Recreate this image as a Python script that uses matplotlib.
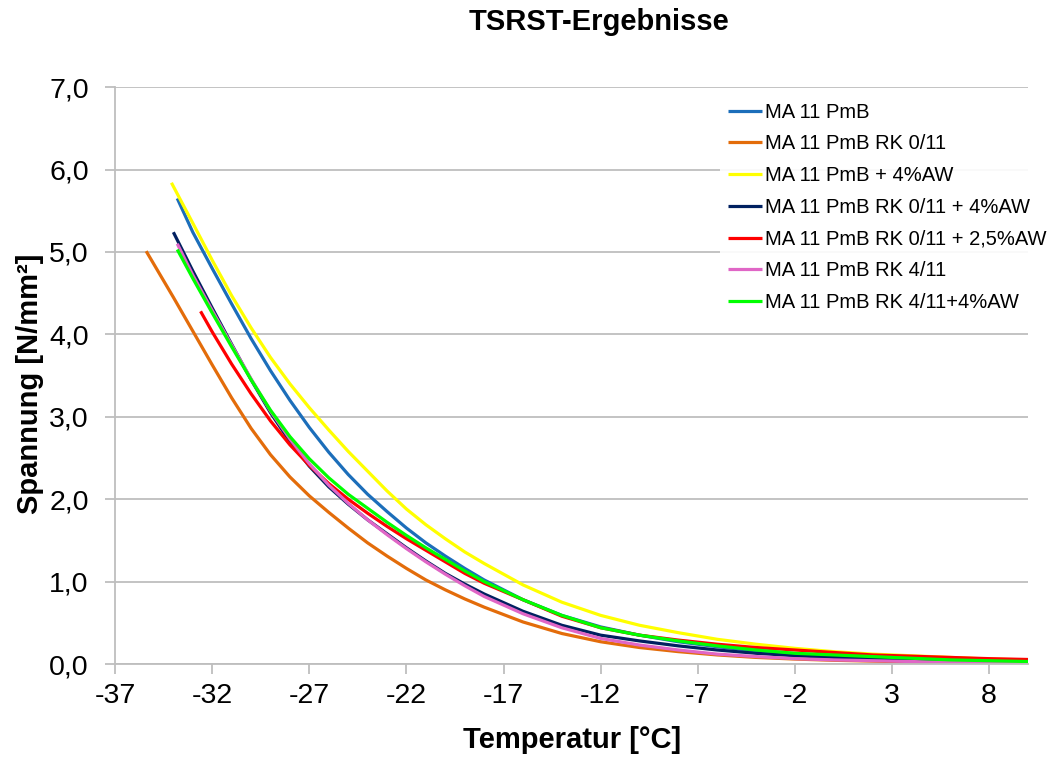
import matplotlib
matplotlib.use("Agg")
import matplotlib.pyplot as plt

plt.rcParams['font.family'] = ['Liberation Sans', 'DejaVu Sans']
plt.rcParams['axes.unicode_minus'] = False

# ---------------------------------------------------------------------------
# data (temperature in degC, stress in N/mm2)
# 1 degree steps in the steep part, 2 degree steps in the flat tail
grid = [-33, -32, -31, -30, -29, -28, -27, -26, -25, -24, -23, -22, -21, -20, -19, -18,
        -16, -14, -12, -10, -8, -6, -4, -2, 0, 2, 4, 6, 8, 10]

x_pmb = [-33.8] + grid
y_pmb = [5.65, 5.24, 4.80, 4.37, 3.95, 3.56, 3.20, 2.87, 2.57, 2.30, 2.06, 1.85, 1.65, 1.47, 1.31, 1.16, 1.02,
         0.78, 0.59, 0.45, 0.35, 0.27, 0.21, 0.16, 0.125, 0.10, 0.08, 0.06, 0.05, 0.04, 0.03]

x_rk011 = [-35.4, -35, -34] + grid
y_rk011 = [5.01, 4.85, 4.45, 4.04, 3.63, 3.23, 2.86, 2.54, 2.27, 2.04, 1.84, 1.65, 1.47, 1.31, 1.16, 1.02, 0.90,
           0.79, 0.69, 0.51, 0.37, 0.27, 0.20, 0.15, 0.11, 0.08, 0.06, 0.045, 0.035, 0.025, 0.02, 0.015, 0.01]

x_pmb_aw = [-34.1] + grid
y_pmb_aw = [5.84, 5.35, 4.90, 4.47, 4.08, 3.72, 3.40, 3.11, 2.84, 2.58, 2.34, 2.10, 1.88, 1.69, 1.52, 1.36, 1.22,
            0.96, 0.75, 0.59, 0.47, 0.38, 0.30, 0.24, 0.19, 0.15, 0.12, 0.10, 0.08, 0.06, 0.05]

x_rk011_aw4 = [-34.0] + grid
y_rk011_aw4 = [5.24, 4.77, 4.32, 3.88, 3.45, 3.05, 2.70, 2.40, 2.15, 1.94, 1.75, 1.58, 1.41, 1.25, 1.10, 0.97, 0.85,
               0.64, 0.47, 0.35, 0.28, 0.22, 0.17, 0.13, 0.10, 0.08, 0.06, 0.05, 0.04, 0.03, 0.03]

x_rk011_aw25 = [-32.6] + grid[1:]
y_rk011_aw25 = [4.28, 4.03, 3.64, 3.28, 2.95, 2.66, 2.41, 2.19, 2.00, 1.83, 1.67, 1.52, 1.38, 1.24, 1.10, 0.98,
                0.78, 0.58, 0.44, 0.35, 0.29, 0.24, 0.20, 0.17, 0.14, 0.11, 0.095, 0.08, 0.065, 0.055]

x_rk411 = [-33.8] + grid
y_rk411 = [5.10, 4.72, 4.29, 3.87, 3.46, 3.07, 2.73, 2.43, 2.17, 1.95, 1.75, 1.57, 1.40, 1.24, 1.09, 0.95, 0.82,
           0.61, 0.44, 0.31, 0.23, 0.17, 0.12, 0.09, 0.065, 0.05, 0.04, 0.03, 0.02, 0.02, 0.015]

x_rk411_aw = [-33.8] + grid
y_rk411_aw = [5.03, 4.68, 4.26, 3.85, 3.45, 3.08, 2.76, 2.49, 2.26, 2.06, 1.89, 1.72, 1.56, 1.41, 1.27, 1.13, 1.00,
              0.78, 0.59, 0.44, 0.35, 0.28, 0.22, 0.17, 0.13, 0.11, 0.09, 0.07, 0.05, 0.04, 0.03]

series = [
    ("MA 11 PmB", x_pmb, y_pmb, "#1C6EBA"),
    ("MA 11 PmB RK 0/11", x_rk011, y_rk011, "#E36C0A"),
    ("MA 11 PmB + 4%AW", x_pmb_aw, y_pmb_aw, "#FFFF00"),
    ("MA 11 PmB RK 0/11 + 4%AW", x_rk011_aw4, y_rk011_aw4, "#002060"),
    ("MA 11 PmB RK 0/11 + 2,5%AW", x_rk011_aw25, y_rk011_aw25, "#FF0000"),
    ("MA 11 PmB RK 4/11", x_rk411, y_rk411, "#E066C6"),
    ("MA 11 PmB RK 4/11+4%AW", x_rk411_aw, y_rk411_aw, "#00FF00"),
]

x_ticks = [-37, -32, -27, -22, -17, -12, -7, -2, 3, 8]
y_ticks = [0, 1, 2, 3, 4, 5, 6, 7]

# ---------------------------------------------------------------------------
fig = plt.figure(figsize=(10.56, 7.58), dpi=100)
ax = fig.add_axes([0.109, 0.124, 0.8645, 0.761])

for label, xs, ys, col in series:
    ax.plot(xs, ys, color=col, linewidth=2.3, label=label, solid_capstyle='butt', solid_joinstyle='round')

ax.set_xlim(-37, 10)
ax.set_ylim(0, 7)
ax.set_xticks(x_ticks)
ax.set_yticks(y_ticks)
ax.set_yticklabels([("%.1f" % v).replace(".", ",") for v in y_ticks])
ax.grid(axis='y', color='#BEBEBE', linewidth=1.3)
ax.set_axisbelow(True)

for s in ['top', 'right']:
    ax.spines[s].set_visible(False)
for s in ['left', 'bottom']:
    ax.spines[s].set_color('#BEBEBE')
    ax.spines[s].set_linewidth(1.3)

ax.tick_params(axis='x', direction='out', length=7, width=1.3, color='#BEBEBE', labelsize=20.5, pad=7)
ax.tick_params(axis='y', direction='out', length=7, width=1.3, color='#BEBEBE', labelsize=20.5, pad=12)

ax.set_xlabel("Temperatur [°C]", fontsize=21, fontweight='bold')
ax.xaxis.set_label_coords(0.5005, -0.1317)
ax.xaxis.label.set_verticalalignment('center')
ax.set_ylabel("Spannung [N/mm²]", fontsize=21, fontweight='bold')
ax.yaxis.set_label_coords(-0.093, 0.485)
ax.yaxis.label.set_verticalalignment('center')
ax.yaxis.label.set_horizontalalignment('center')

fig.text(0.567, 0.971, "TSRST-Ergebnisse", fontsize=21, fontweight='bold', ha='center', va='center')

leg = ax.legend(loc='upper left', bbox_to_anchor=(0.682, 0.875), bbox_transform=fig.transFigure,
                fontsize=14.5, frameon=True, handlelength=1.69, handletextpad=0.14,
                labelspacing=0.63, borderaxespad=0.0)
leg.get_frame().set_edgecolor('none')
leg.get_frame().set_facecolor('white')
leg.get_frame().set_alpha(0.9)

plt.savefig("out.png", dpi=100)
